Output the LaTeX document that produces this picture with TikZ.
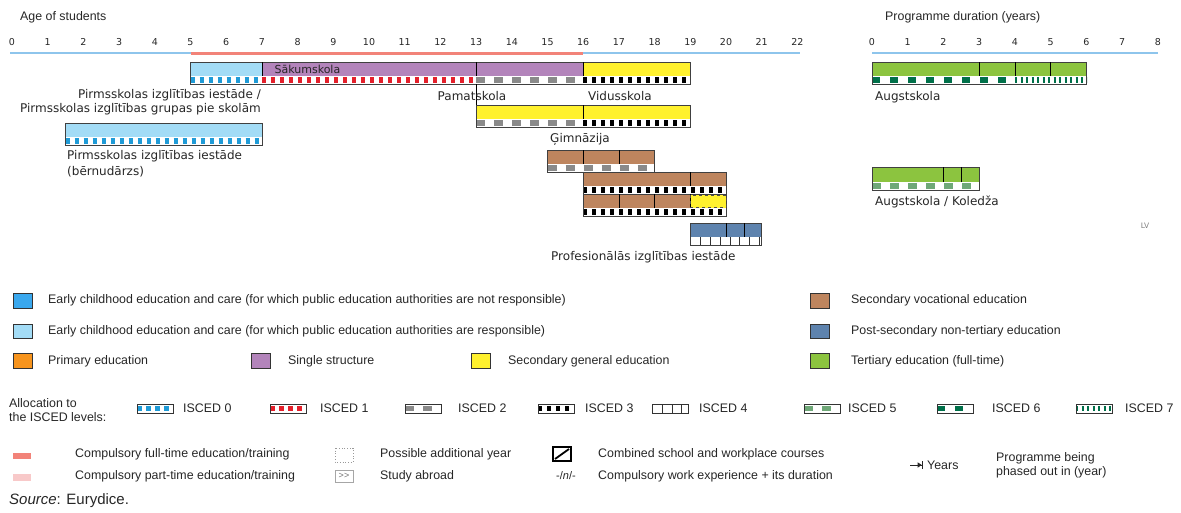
\documentclass[tikz,border=0pt]{standalone}
\usepackage{fontspec}
\setmainfont{Liberation Sans}
\newfontfamily\verd{DejaVu Sans}
\usetikzlibrary{arrows.meta}

\definecolor{ecnot}{HTML}{3AA8EE}
\definecolor{ecyes}{HTML}{A3DCF6}
\definecolor{prim}{HTML}{F7941D}
\definecolor{single}{HTML}{B384BB}
\definecolor{secgen}{HTML}{FFF12E}
\definecolor{secvoc}{HTML}{BE855E}
\definecolor{postsec}{HTML}{5E83AE}
\definecolor{tert}{HTML}{8CC43F}
\definecolor{compfull}{HTML}{F28379}
\definecolor{comppart}{HTML}{F8C9C9}
\definecolor{axisblue}{HTML}{8EC5EC}
\definecolor{iscA}{HTML}{1F9BD7}
\definecolor{iscB}{HTML}{E4202B}
\definecolor{iscC}{HTML}{8A8A8A}
\definecolor{iscE}{HTML}{6FA878}
\definecolor{iscF}{HTML}{00704A}

\tikzset{
  barline/.style={draw=black!75, line width=0.7pt},
  divider/.style={draw=black, line width=0.7pt},
  isc0/.style={line width=5.5pt, iscA, dash pattern=on 4.5pt off 4.5pt},
  isc1/.style={line width=5.5pt, iscB, dash pattern=on 4.5pt off 4.5pt},
  isc2/.style={line width=5.5pt, iscC, dash pattern=on 9pt off 9pt},
  isc3/.style={line width=5.5pt, black, dash pattern=on 4pt off 5pt},
  isc4/.style={line width=8pt, black!80, dash pattern=on 0.8pt off 9pt},
  isc5/.style={line width=5.5pt, iscE, dash pattern=on 9pt off 9pt},
  isc6/.style={line width=5.5pt, iscF, dash pattern=on 8pt off 10pt},
  isc7/.style={line width=5.5pt, iscF, dash pattern=on 2pt off 3.5pt},
  lbl/.style={font=\verd\fontsize{12}{14}\selectfont, inner sep=0pt, text=black!85},
  num/.style={font=\verd\fontsize{9.5}{11}\selectfont, inner sep=0pt, text=black!85},
  leg/.style={font=\fontsize{12.4}{14}\selectfont, inner sep=0pt, anchor=west, text=black!85},
  swatch/.style={draw=black!80, line width=0.8pt},
}

% strip with the ISCED pattern: from, to, top of strip, style
\newcommand{\iscstrip}[4]{%
  \fill[white] (#1,#3) rectangle (#2,#3+8);
  \draw[#4] (#1,#3+4) -- (#2,#3+4);}

\begin{document}
\begin{tikzpicture}[x=1pt, y=-1pt]
\useasboundingbox (0,0) rectangle (1181,512);

% ---- age of students
\node[leg] (agetitle) at (20,17) {Age of students};
\begin{scope}[xshift=12pt, x=35.7pt]
  \draw[axisblue, line width=2pt] (-0.05,53) -- (5,53);
  \draw[compfull, line width=3pt] (5,53) -- (16,53);
  \draw[axisblue, line width=2pt] (16,53) -- (22.08,53);
  \foreach \i in {0,...,22} \node[num] (age\i) at (\i,42) {\i};

  % pre-primary + single structure + secondary
  \fill[ecyes] (5,62) rectangle (7,76);
  \fill[single] (7,62) rectangle (16,76);
  \fill[secgen] (16,62) rectangle (19,76);
  \iscstrip{5}{7}{76}{isc0}
  \iscstrip{7}{13}{76}{isc1}
  \iscstrip{13}{16}{76}{isc2}
  \iscstrip{16}{19}{76}{isc3}
  \draw[barline] (5,62) rectangle (19,84);
  \foreach \d in {7,13,16} \draw[divider] (\d,62) -- (\d,76);
  \node[lbl, anchor=west, font=\verd\fontsize{11}{13}\selectfont] (sakum) at (7.35,69) {Sākumskola};
  \draw[divider, line width=0.5pt] (13,84) -- (13,105);

  % gimnazija
  \fill[secgen] (13,105) rectangle (19,119);
  \iscstrip{13}{16}{119}{isc2}
  \iscstrip{16}{19}{119}{isc3}
  \draw[barline] (13,105) rectangle (19,127);
  \draw[divider] (16,105) -- (16,119);

  % kindergarten
  \fill[ecyes] (1.5,123) rectangle (7,137);
  \iscstrip{1.5}{7}{137}{isc0}
  \draw[barline] (1.5,123) rectangle (7,145);

  % vocational
  \fill[secvoc] (15,150) rectangle (18,164);
  \iscstrip{15}{18}{164}{isc2}
  \draw[barline] (15,150) rectangle (18,172);
  \foreach \d in {16,17} \draw[divider] (\d,150) -- (\d,164);

  \fill[secvoc] (16,172) rectangle (20,186);
  \iscstrip{16}{20}{186}{isc3}
  \draw[barline] (16,172) rectangle (20,194);
  \draw[divider] (19,172) -- (19,186);

  \fill[secvoc] (16,194) rectangle (19,208);
  \fill[secgen] (19,194) rectangle (20,208);
  \iscstrip{16}{20}{208}{isc3}
  \draw[barline] (16,194) rectangle (20,216);
  \foreach \d in {17,18,19} \draw[divider] (\d,194) -- (\d,208);
  \draw[black!70, dashed, line width=0.6pt] (19,195) rectangle (20,207);

  % post-secondary
  \fill[postsec] (19,223) rectangle (21,237);
  \iscstrip{19}{21}{237}{isc4}
  \draw[barline] (19,223) rectangle (21,245);
  \foreach \d in {20,20.5} \draw[divider] (\d,223) -- (\d,237);
\end{scope}

\node[lbl, align=right, anchor=east] (pirmsA) at (261,102) {Pirmsskolas izglītības iestāde /\\Pirmsskolas izglītības grupas pie skolām};
\node[lbl] (pamat) at (472,96) {Pamatskola};
\node[lbl, anchor=west] (vidus) at (588,96) {Vidusskola};
\node[lbl, anchor=west] (gimn) at (550,139) {Ģimnāzija};
\node[lbl, align=left, anchor=west, font=\verd\fontsize{12}{16}\selectfont] (pirmsB) at (67,164) {Pirmsskolas izglītības iestāde\\(bērnudārzs)};
\node[lbl, anchor=west] (profes) at (551,257) {Profesionālās izglītības iestāde};

% ---- programme duration
\node[leg] (durtitle) at (885,17) {Programme duration (years)};
\begin{scope}[xshift=872pt, x=35.75pt]
  \draw[axisblue, line width=2pt] (0,53) -- (8,53);
  \foreach \i in {0,...,8} \node[num] (dur\i) at (\i,42) {\i};

  \fill[tert] (0,62) rectangle (6,76);
  \iscstrip{0}{4}{76}{isc6}
  \iscstrip{4}{6}{76}{isc7}
  \draw[barline] (0,62) rectangle (6,84);
  \foreach \d in {3,4,5} \draw[divider] (\d,62) -- (\d,76);

  \fill[tert] (0,167) rectangle (3,182);
  \iscstrip{0}{3}{182}{isc5}
  \draw[barline] (0,167) rectangle (3,190);
  \foreach \d in {2,2.5} \draw[divider] (\d,167) -- (\d,182);
\end{scope}
\node[lbl, anchor=west] (augst) at (875,97) {Augstskola};
\node[lbl, anchor=west] (koled) at (875,202) {Augstskola / Koledža};
\node[num, text=black!50, font=\verd\fontsize{7.5}{9}\selectfont] (cty) at (1145,226) {LV};

% ---- legend: categories
\filldraw[swatch, fill=ecnot] (13,293) rectangle (32,308);
\filldraw[swatch, fill=ecyes] (13,324) rectangle (32,338);
\filldraw[swatch, fill=prim] (13,353) rectangle (32,368);
\filldraw[swatch, fill=single] (251,353) rectangle (270,368);
\filldraw[swatch, fill=secgen] (471,353) rectangle (490,368);
\filldraw[swatch, fill=secvoc] (810,293) rectangle (829,308);
\filldraw[swatch, fill=postsec] (810,324) rectangle (829,338);
\filldraw[swatch, fill=tert] (810,353) rectangle (829,368);
\node[leg] (lgecnot) at (48,300) {Early childhood education and care (for which public education authorities are not responsible)};
\node[leg] (lgecyes) at (48,331) {Early childhood education and care (for which public education authorities are responsible)};
\node[leg] (lgprim) at (48,361) {Primary education};
\node[leg] (lgsingle) at (288,361) {Single structure};
\node[leg] (lgsecgen) at (508,361) {Secondary general education};
\node[leg] (lgsecvoc) at (851,300) {Secondary vocational education};
\node[leg] (lgpostsec) at (851,331) {Post-secondary non-tertiary education};
\node[leg] (lgtert) at (851,361) {Tertiary education (full-time)};

% ---- legend: ISCED levels
\node[leg, align=left] (alloc) at (9,410) {Allocation to\\the ISCED levels:};
\foreach \s/\x/\t in {0/137/183, 1/270/320, 2/405/458, 3/538/585, 4/652/699, 5/804/848, 6/937/992, 7/1076/1125} {
  \fill[white] (\x,404) rectangle (\x+36,413);
  \draw[isc\s] (\x,408.5) -- (\x+36,408.5);
  \draw[swatch] (\x,404) rectangle (\x+36,413);
  \node[leg] (lgisc\s) at (\t,408.5) {ISCED \s};
}

% ---- legend: other symbols
\fill[compfull] (13,453) rectangle (31,459);
\fill[comppart] (13,474) rectangle (31,481);
\node[leg] (lgfull) at (75,454) {Compulsory full-time education/training};
\node[leg] (lgpart) at (75,476) {Compulsory part-time education/training};
\draw[black!40, dotted, line width=0.7pt] (335,448) rectangle (353,462);
\draw[black!35, line width=0.6pt] (335,470) rectangle (353,482);
\node[inner sep=0pt, text=black!55, font=\fontsize{9}{10}\selectfont] (abroad) at (344,476) {{>}{>}};
\node[leg] (lgextra) at (380,454) {Possible additional year};
\node[leg] (lgabroad) at (380,476) {Study abroad};
\draw[black, line width=1.4pt] (553,447) rectangle (571,461);
\draw[black, line width=1.8pt] (555,459) -- (569,449);
\node[inner sep=0pt, text=black!85, font=\fontsize{11}{13}\selectfont] (wexp) at (566,476) {-/\textit{n}/-};
\node[leg] (lgcomb) at (598,454) {Combined school and workplace courses};
\node[leg] (lgwork) at (598,476) {Compulsory work experience + its duration};
\coordinate (yrA) at (910,465);
\coordinate (yrB) at (923,465);
\draw[black!85, line width=1pt, -{Triangle[length=4pt,width=5pt]Bar[width=8pt,line width=1.3pt]}] (yrA) -- (yrB);
\node[leg] (lgyears) at (927,465) {Years};
\node[leg, align=left] (lgphase) at (996,465) {Programme being\\phased out in (year)};
\node[leg, font=\fontsize{15}{17}\selectfont] (source) at (9,501) {\textit{Source}: Eurydice.};
\end{tikzpicture}
\end{document}
